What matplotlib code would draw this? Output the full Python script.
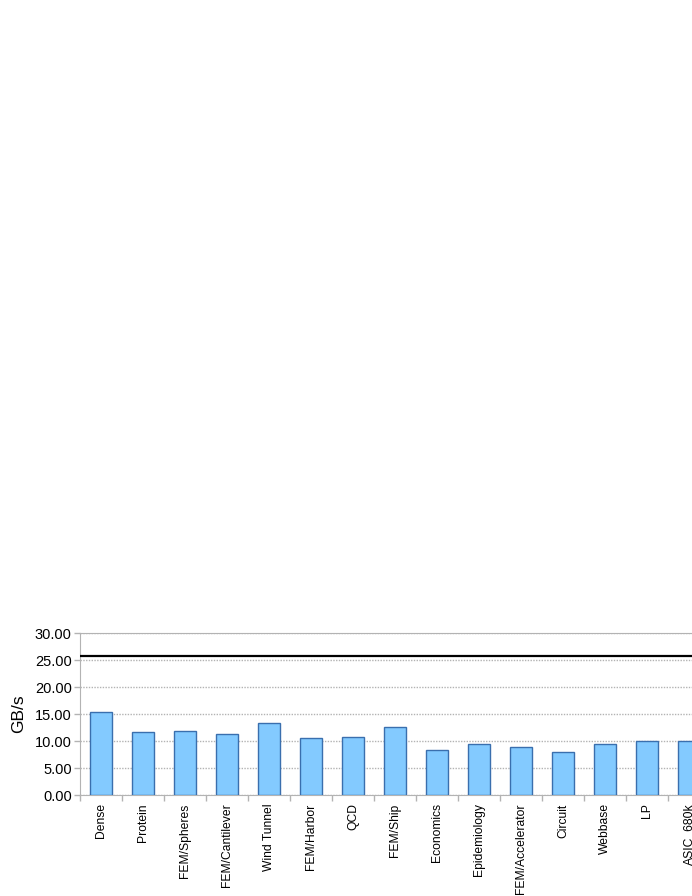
import matplotlib

matplotlib.use("Agg")
import matplotlib.pyplot as plt
import numpy as np

plt.rcParams["font.family"] = ["Liberation Sans", "DejaVu Sans"]

matrices = ["Dense", "Protein", "FEM/Spheres", "FEM/Cantilever", "Wind Tunnel",
            "FEM/Harbor", "QCD", "FEM/Ship", "Economics", "Epidemiology",
            "FEM/Accelerator", "Circuit", "Webbase", "LP", "ASIC_680k"]
gbps = [15.4, 11.7, 11.85, 11.35, 13.35, 10.55, 10.75, 12.6, 8.4, 9.45,
        8.9, 7.9, 9.4, 10.05, 9.95]
peak_bw = 25.7
yticks = [0, 5, 10, 15, 20, 25, 30]

W, H = 692, 896
fig = plt.figure(figsize=(W / 100, H / 100), dpi=100)
# axes run past the right edge of the figure, like the cropped original
ax = fig.add_axes([80 / W, (H - 795) / H, 16 * 42 / W, 162 / H])

x = np.arange(len(matrices))
ax.bar(x, gbps, width=0.52, color="#83caff", edgecolor="#3a6fae", linewidth=1.0, zorder=3)
ax.axhline(peak_bw, color="black", linewidth=1.6, zorder=4)

ax.set_xlim(-0.5, 15.5)
ax.set_ylim(0, 30)
ax.set_yticks(yticks)
ax.set_yticklabels([f"{v:.2f}" for v in yticks], fontsize=10.5)
ax.set_ylabel("GB/s", fontsize=12.5, labelpad=6)

ax.set_xticks(x)
ax.set_xticklabels(matrices, rotation=90, fontsize=8.7, va="top", ha="center")
ax.set_xticks(np.arange(-0.5, 16, 1), minor=True)
ax.tick_params(axis="x", which="major", length=0, pad=6)
ax.tick_params(axis="x", which="minor", length=4, color="#b3b3b3", width=1)
ax.tick_params(axis="y", length=4, color="#b3b3b3", width=1, pad=2)

ax.yaxis.grid(True, linestyle=(0, (1, 1)), color="#b3b3b3", linewidth=1, zorder=0)
ax.set_axisbelow(True)
for side in ["left", "bottom", "top"]:
    ax.spines[side].set_color("#b3b3b3")
ax.spines["right"].set_visible(False)

fig.savefig("out.png", dpi=100)
